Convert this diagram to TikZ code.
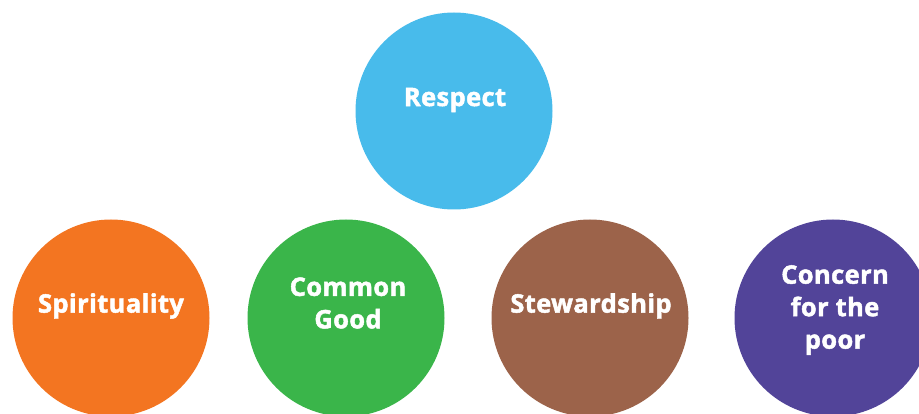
\documentclass[tikz,border=0pt]{standalone}
\usepackage{fontspec}
\setmainfont{Open Sans}[BoldFeatures={FakeBold=1.8,LetterSpace=1.5}]
\definecolor{cblue}{HTML}{48BBEB}
\definecolor{corange}{HTML}{F37521}
\definecolor{cgreen}{HTML}{3AB54A}
\definecolor{cbrown}{HTML}{9C634A}
\definecolor{cpurple}{HTML}{524499}
\begin{document}
\begin{tikzpicture}[x=1pt,y=-1pt,
  disc/.style={circle,minimum size=197pt,inner sep=0pt},
  lbl/.style={text=white,font=\fontsize{25.5}{32.5}\selectfont\bfseries,align=center,inner sep=0pt}]
\useasboundingbox (0,0) rectangle (919,414);
\begin{scope}
\clip (0,0) rectangle (919,414);
\node[disc,fill=cblue] (c1) at (454,111) {};
\node[disc,fill=corange] (c2) at (111,318) {};
\node[disc,fill=cgreen] (c3) at (346,318) {};
\node[disc,fill=cbrown] (c4) at (590,318) {};
\node[disc,fill=cpurple] (c5) at (833,318) {};
\end{scope}
\node[lbl] (t1) at (455,100) {Respect};
\node[lbl] (t2) at (111,306) {Spirituality};
\node[lbl] (t3) at (348,303) {Common\\Good};
\node[lbl] (t4) at (591,306) {Stewardship};
\node[lbl] (t5) at (835,310) {Concern\\for the\\poor};
\end{tikzpicture}
\end{document}
